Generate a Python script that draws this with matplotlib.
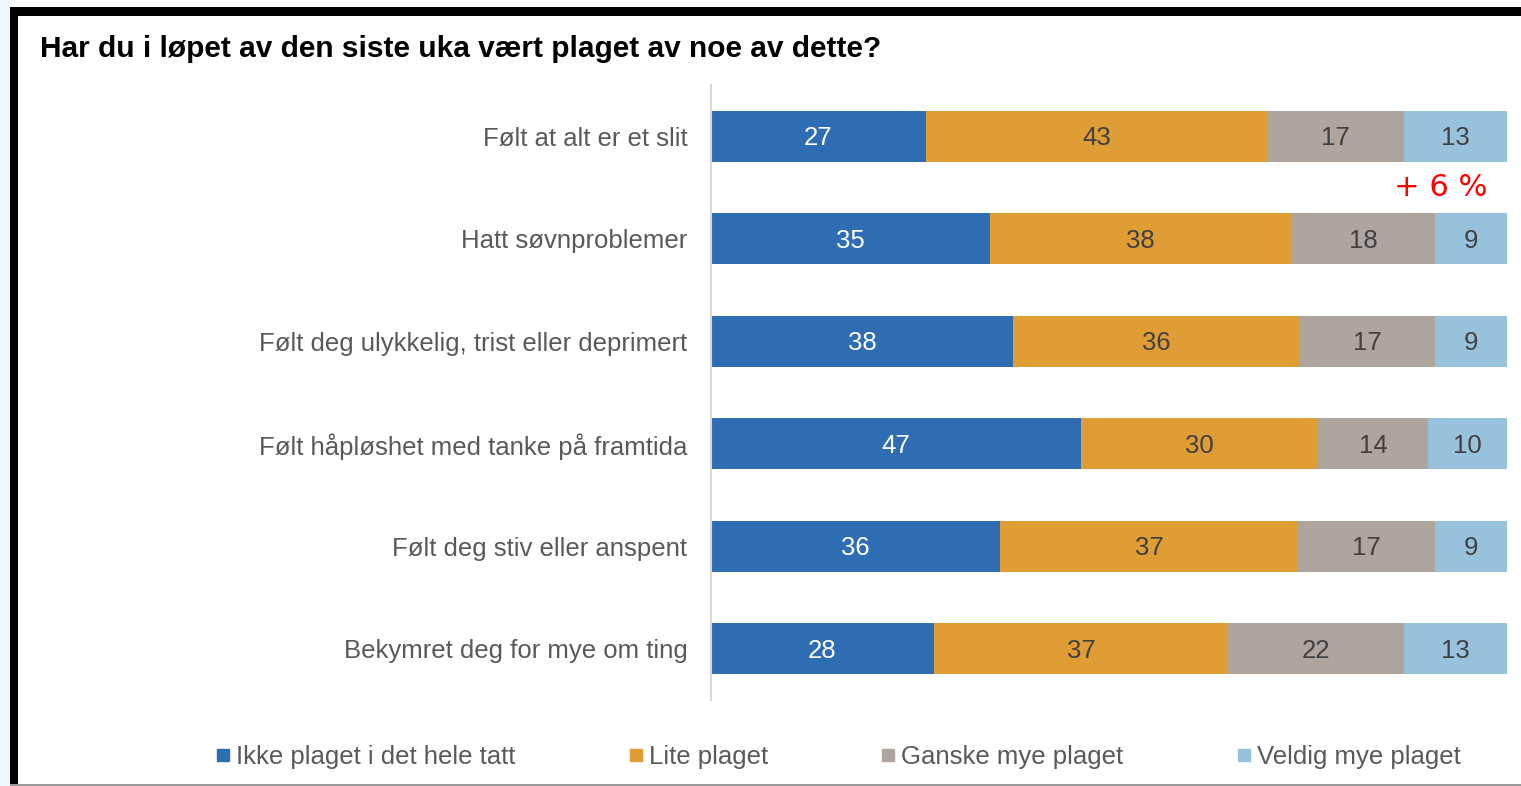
import matplotlib
matplotlib.use("Agg")
import matplotlib.pyplot as plt
from matplotlib.patches import Rectangle
from matplotlib.lines import Line2D
import numpy as np

plt.rcParams['font.family'] = ['Liberation Sans', 'DejaVu Sans']

# data
questions = [
    "Følt at alt er et slit",
    "Hatt søvnproblemer",
    "Følt deg ulykkelig, trist eller deprimert",
    "Følt håpløshet med tanke på framtida",
    "Følt deg stiv eller anspent",
    "Bekymret deg for mye om ting",
]
series_names = ["Ikke plaget i det hele tatt", "Lite plaget",
                "Ganske mye plaget", "Veldig mye plaget"]
ikke = [27, 35, 38, 47, 36, 28]
lite = [43, 38, 36, 30, 37, 37]
ganske = [17, 18, 17, 14, 17, 22]
veldig = [13, 9, 9, 10, 9, 13]
colors = ["#2E6DB4", "#E09D35", "#ADA59E", "#98C1DB"]
text_colors = ["white", "#404040", "#404040", "#404040"]
title = "Har du i løpet av den siste uka vært plaget av noe av dette?"
note = "+ 6 %"

W, H = 1521, 786
fig = plt.figure(figsize=(W / 100, H / 100), dpi=100)
fig.patch.set_facecolor("white")

def px(x, y):
    return x / W, 1 - y / H

# frame around the screenshot
fig.add_artist(Rectangle((0, 0), 10 / W, 1, transform=fig.transFigure,
                         facecolor="#EEF5FB", edgecolor="none", zorder=0))
fig.add_artist(Rectangle((10 / W, 0), 8 / W, 1 - 7 / H, transform=fig.transFigure,
                         facecolor="black", edgecolor="none"))
fig.add_artist(Rectangle((10 / W, 1 - 16 / H), 1 - 10 / W, 9 / H,
                         transform=fig.transFigure, facecolor="black", edgecolor="none"))
fig.add_artist(Rectangle((10 / W, 0), 1 - 10 / W, 2 / H, transform=fig.transFigure,
                         facecolor="#9a9a9a", edgecolor="none"))

left, top = px(711, 85)
right, bottom = px(1507, 700)
ax = fig.add_axes([left, bottom, right - left, top - bottom])

data = np.array([ikke, lite, ganske, veldig], dtype=float)
shares = data / data.sum(axis=0) * 100
y = np.arange(len(questions))
start = np.zeros(len(questions))
for i in range(len(series_names)):
    ax.barh(y, shares[i], left=start, height=0.5, color=colors[i], label=series_names[i])
    for j in range(len(questions)):
        ax.text(start[j] + shares[i][j] / 2, y[j] + 0.02, str(int(data[i][j])),
                ha="center", va="center", fontsize=18.5, color=text_colors[i])
    start += shares[i]

ax.set_xlim(0, 100)
ax.set_ylim(len(questions) - 0.5, -0.5)
ax.set_yticks(y)
ax.set_yticklabels(questions, fontsize=18.5, color="#595959")
ax.tick_params(axis="y", length=0, pad=17)
ax.set_xticks([])
for s in ["top", "right", "bottom"]:
    ax.spines[s].set_visible(False)
ax.spines["left"].set_color("#D9D9D9")
ax.spines["left"].set_linewidth(1.5)

fig.text(*px(40, 49), title, fontsize=21.5, fontweight="bold", color="black",
         ha="left", va="center")
fig.text(*px(1441, 187), note, fontsize=22, color="red", ha="center", va="center",
         family="DejaVu Sans")

handles = [Line2D([], [], marker="s", linestyle="none", markersize=9,
                  markerfacecolor=c, markeredgecolor=c) for c in colors]
fig.legend(handles, series_names, loc="center left", bbox_to_anchor=px(215, 757),
           ncol=4, frameon=False, fontsize=18.5, labelcolor="#595959",
           handlelength=0.6, handletextpad=0.2, columnspacing=4.4,
           borderaxespad=0, borderpad=0)

fig.savefig("out.png", dpi=100)
